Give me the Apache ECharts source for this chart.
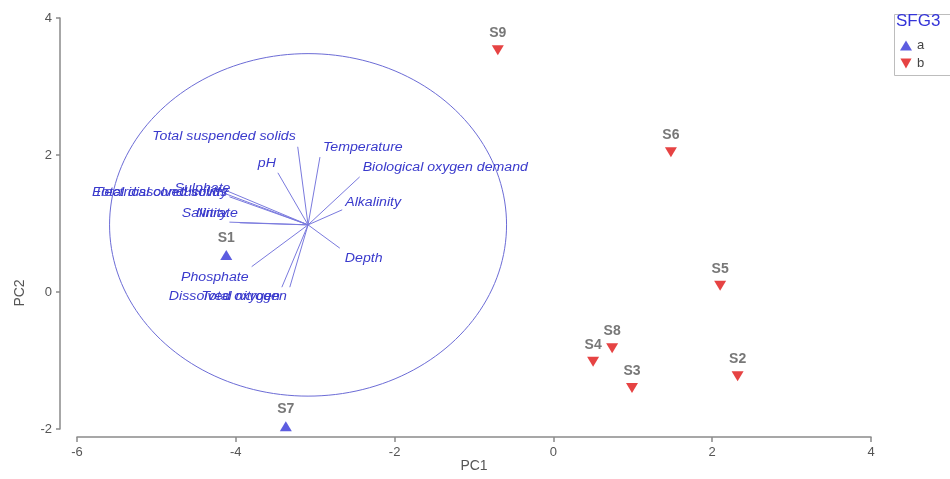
<!DOCTYPE html>
<html>
<head>
<meta charset="utf-8">
<script src="https://cdn.jsdelivr.net/npm/echarts@6/dist/echarts.min.js"></script>
<style>
  html, body { margin: 0; padding: 0; background: #fff; }
  #main { width: 950px; height: 479px; }
</style>
</head>
<body>
<div id="main"></div>
<script>
// 样本点（PC1, PC2）
const groupA = [['S1', -4.12, 0.54], ['S7', -3.37, -1.96]]
const groupB = [
  ['S9', -0.70, 3.53], ['S6', 1.48, 2.04], ['S5', 2.10, 0.09],
  ['S2', 2.32, -1.23], ['S8', 0.74, -0.82], ['S4', 0.50, -1.02],
  ['S3', 0.99, -1.40]
]

// 变量向量（相对圆心的载荷）
const vectorNames = [
  'Total suspended solids', 'pH', 'Temperature', 'Biological oxygen demand',
  'Alkalinity', 'Depth', 'Phosphate', 'Dissolved oxygen', 'Total nitrogen',
  'Electrical conductivity', 'Total dissolved solids', 'Sulphate', 'Salinity', 'Nitrate'
]
const vectorX = [-0.13, -0.38, 0.15, 0.65, 0.43, 0.40, -0.71, -0.33, -0.23, -1.03, -1.03, -0.99, -0.99, -0.86]
const vectorY = [1.14, 0.76, 0.99, 0.70, 0.22, -0.34, -0.61, -0.91, -0.91, 0.50, 0.45, 0.41, 0.04, 0.03]

// 相关圆
const circleCenter = [-3.09, 0.98]
const circleRadius = 2.5

const xTicks = { min: -6, max: 4, interval: 2 }
const yTicks = { min: -2, max: 4, interval: 2 }

// 标签偏移（像素）: [dx, dy, 对齐]
const labelPos = {
  'Total suspended solids': [-2, -10, 'right'],
  'pH': [-2, -9, 'right'],
  'Temperature': [3, -9, 'left'],
  'Biological oxygen demand': [3, -9, 'left'],
  'Alkalinity': [3, -7, 'left'],
  'Depth': [5, 10, 'left'],
  'Phosphate': [-3, 11, 'right'],
  'Dissolved oxygen': [-2, 9, 'right'],
  'Total nitrogen': [-3, 9, 'right'],
  'Electrical conductivity': [1, 2, 'right'],
  'Total dissolved solids': [1, -1, 'right'],
  'Sulphate': [1, -8, 'right'],
  'Salinity': [-2, -8, 'right'],
  'Nitrate': [-2, -9, 'right']
}

const blue = '#3434d8'
const red = '#e01414'
const vecColor = '#7a7ade'
const txtColor = '#3a3acc'
const font = '"Liberation Sans", Arial, sans-serif'
const downTri = 'path://M0,0L10,0L5,9Z'

let vectorData = vectorNames.map((n, i) => [vectorX[i], vectorY[i], i])

let chart = echarts.init(document.getElementById('main'))

let option = {
  backgroundColor: '#fff',
  animation: false,
  textStyle: { fontFamily: font },
  grid: { left: 77, right: 79, top: 18, bottom: 50, outerBoundsMode: 'none' },
  xAxis: {
    type: 'value', min: xTicks.min, max: xTicks.max, interval: xTicks.interval,
    offset: 8, splitLine: { show: false },
    name: 'PC1', nameLocation: 'middle', nameGap: 22, nameMoveOverlap: false,
    nameTextStyle: { color: '#555', fontSize: 14 },
    axisLine: { show: true, onZero: false, lineStyle: { color: '#8a8a8a', width: 1.5 } },
    axisTick: { show: true, length: 5, lineStyle: { color: '#8a8a8a', width: 1.5 } },
    axisLabel: { color: '#555', fontSize: 13, margin: 9 }
  },
  yAxis: {
    type: 'value', min: yTicks.min, max: yTicks.max, interval: yTicks.interval,
    offset: 17, splitLine: { show: false },
    axisLine: { show: true, onZero: false, lineStyle: { color: '#8a8a8a', width: 1.5 } },
    axisTick: { show: true, length: 4, lineStyle: { color: '#8a8a8a', width: 1.5 } },
    axisLabel: { color: '#555', fontSize: 13, margin: 8 }
  },
  legend: {
    orient: 'vertical', left: 895, top: 34,
    itemWidth: 12, itemHeight: 10, itemGap: 5,
    textStyle: { color: '#444', fontSize: 13 },
    data: [{ name: 'a', icon: 'triangle' }, { name: 'b', icon: downTri }]
  },
  graphic: [
    { type: 'rect', left: 892, top: 12, shape: { width: 70, height: 61 },
      style: { fill: 'none', stroke: '#bdbdbd', lineWidth: 1 } },
    { type: 'text', left: 896, top: 13,
      style: { text: 'SFG3', fill: blue, font: '17px "Liberation Sans", Arial, sans-serif' } },
    { type: 'text', x: 20, y: 293, rotation: Math.PI / 2,
      style: { text: 'PC2', fill: '#555', fontSize: 14, align: 'center', verticalAlign: 'middle',
        fontFamily: font } }
  ],
  series: [
    {
      // 圆
      type: 'custom',
      silent: true,
      data: [[circleCenter[0], circleCenter[1], circleRadius]],
      renderItem: function (params, api) {
        let cx = api.value(0), cy = api.value(1), r = api.value(2)
        let pts = []
        for (let k = 0; k <= 180; k++) {
          let t = k / 180 * Math.PI * 2
          pts.push(api.coord([cx + r * Math.cos(t), cy + r * Math.sin(t)]))
        }
        return {
          type: 'polyline',
          shape: { points: pts },
          style: { fill: 'none', stroke: '#6c6cd6', lineWidth: 1 }
        }
      },
      z: 1
    },
    {
      // 向量
      type: 'custom',
      silent: true,
      data: vectorData,
      renderItem: function (params, api) {
        let i = api.value(2)
        let name = vectorNames[i]
        let c = api.coord(circleCenter)
        let e = api.coord([circleCenter[0] + api.value(0), circleCenter[1] + api.value(1)])
        let p = labelPos[name]
        return {
          type: 'group',
          children: [
            { type: 'line', shape: { x1: c[0], y1: c[1], x2: e[0], y2: e[1] },
              style: { stroke: vecColor, lineWidth: 1 } },
            { type: 'text', x: e[0] + p[0], y: e[1] + p[1], scaleX: 1.18,
              style: { text: name, fill: txtColor, fontSize: 12, fontStyle: 'italic',
                align: p[2], verticalAlign: 'middle', fontFamily: font } }
          ]
        }
      },
      z: 2
    },
    {
      name: 'a', type: 'scatter',
      symbol: 'triangle', symbolSize: [12, 10],
      itemStyle: { color: blue },
      label: { show: true, position: 'top', distance: 5, color: '#555', fontSize: 14,
        fontWeight: 'bold', formatter: p => p.data[2] },
      data: groupA.map(d => [d[1], d[2], d[0]]),
      z: 3
    },
    {
      name: 'b', type: 'scatter',
      symbol: downTri, symbolSize: [12, 10],
      itemStyle: { color: red },
      label: { show: true, position: 'top', distance: 5, color: '#555', fontSize: 14,
        fontWeight: 'bold', formatter: p => p.data[2] },
      data: groupB.map(d => [d[1], d[2], d[0]]),
      z: 3
    }
  ]
}

chart.setOption(option)
</script>
</body>
</html>
